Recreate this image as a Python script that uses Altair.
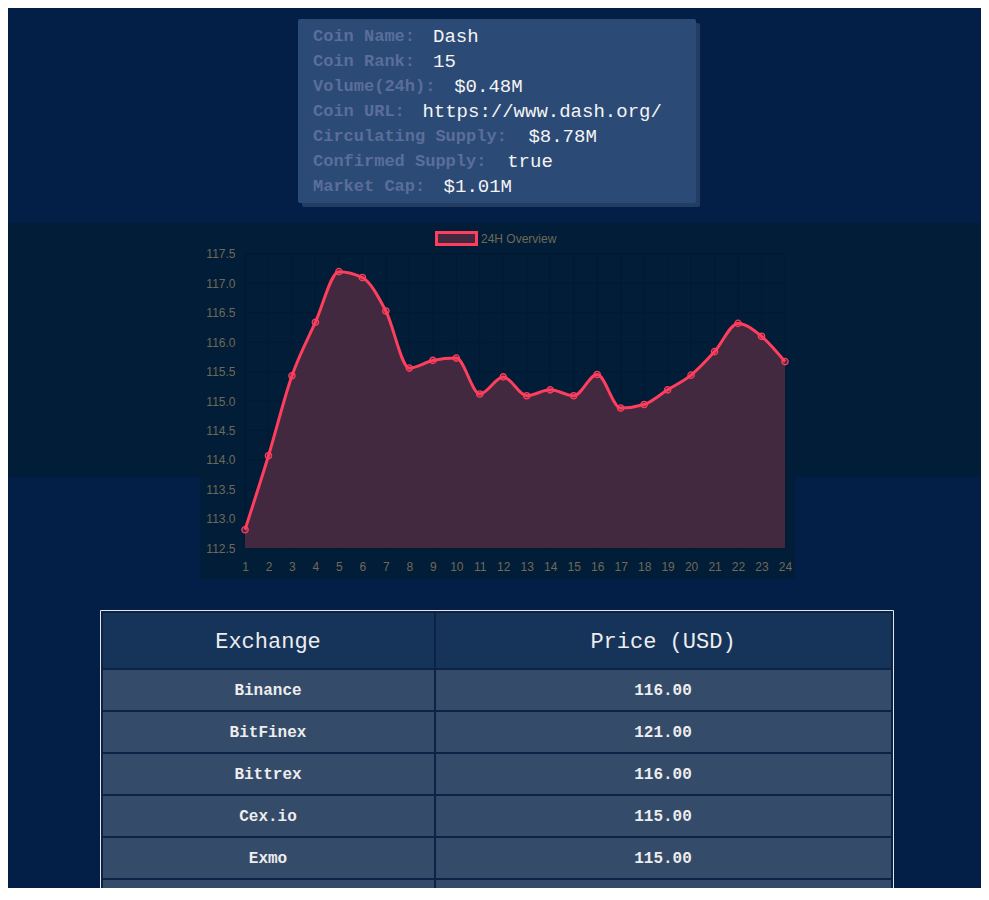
import altair as alt
import pandas as pd

PAGE = "#031F48"
CARD = "#2C4A76"
CARD_SHADOW = "#233C62"
LABEL = "#5A6E9B"
BAND = "#021D37"
GRID = "#021A33"
TICK = "#6E6A58"
LINE = "#FF3E5E"
AREA = "#43293F"
HEAD = "#16345A"
CELL = "#354B6A"
CELL_LINE = "#0B2346"
MONO = "Liberation Mono"
SANS = "Liberation Sans"
W = 973

card_labels = [
    "Coin Name:",
    "Coin Rank:",
    "Volume(24h):",
    "Coin URL:",
    "Circulating Supply:",
    "Confirmed Supply:",
    "Market Cap:",
]
card_values = ["Dash", "15", "$0.48M", "https://www.dash.org/", "$8.78M", "true", "$1.01M"]

hours = list(range(1, 25))
prices = [
    112.81, 114.07, 115.43, 116.34, 117.20, 117.10, 116.53, 115.56,
    115.69, 115.73, 115.12, 115.41, 115.09, 115.19, 115.09, 115.45,
    114.88, 114.94, 115.19, 115.44, 115.84, 116.32, 116.10, 115.67,
]
y_ticks = [112.5, 113.0, 113.5, 114.0, 114.5, 115.0, 115.5, 116.0, 116.5, 117.0, 117.5]

exchanges = ["Binance", "BitFinex", "Bittrex", "Cex.io", "Exmo", "IngoreX"]
exchange_prices = [116.0, 121.0, 116.0, 115.0, 115.0, 117.0]


def card_panel():
    one = pd.DataFrame({"k": [0]})
    df = pd.DataFrame(
        {
            "label": card_labels,
            "value": card_values,
            "chars": [len(s) for s in card_labels],
        }
    )
    row_y = alt.Y(
        "label:N",
        sort=None,
        axis=None,
        scale=alt.Scale(type="point", domain=card_labels, range=[28, 178], padding=0),
    )
    shadow = alt.Chart(one).mark_rect(color=CARD_SHADOW, cornerRadius=2).encode(
        x=alt.value(294), x2=alt.value(692), y=alt.value(15), y2=alt.value(199)
    )
    card = alt.Chart(one).mark_rect(color=CARD, cornerRadius=2).encode(
        x=alt.value(290), x2=alt.value(688), y=alt.value(11), y2=alt.value(195)
    )
    labels = (
        alt.Chart(df)
        .mark_text(
            align="left",
            baseline="middle",
            font=MONO,
            fontSize=17,
            fontWeight="bold",
            color=LABEL,
        )
        .encode(x=alt.value(305), y=row_y, text="label:N")
    )
    values = (
        alt.Chart(df)
        .mark_text(align="left", baseline="middle", font=MONO, fontSize=19, color="#F4F4F4")
        .encode(
            x=alt.X(
                "chars:Q",
                axis=None,
                scale=alt.Scale(domain=[-30.094, 61.698], nice=False, zero=False),
            ),
            y=row_y,
            text="value:N",
        )
    )
    return alt.layer(shadow, card, labels, values).properties(width=W, height=215)


def price_panel():
    one = pd.DataFrame({"k": [0]})
    df = pd.DataFrame(
        {"hour": hours, "price": prices, "base": y_ticks[0], "series": "24H Overview"}
    )
    x_sc = alt.Scale(domain=[-9.094, 32.348], nice=False, zero=False)
    y_sc = alt.Scale(domain=[111.446, 118.027], nice=False, zero=False)
    x_axis = alt.Axis(
        values=hours,
        orient="bottom",
        offset=-62,
        zindex=1,
        domain=False,
        ticks=False,
        tickSize=0,
        grid=False,
        labelPadding=13,
        labelAngle=0,
        labelColor=TICK,
        labelFont=SANS,
        labelFontSize=12,
        labelOverlap=False,
        labelFlush=False,
        title=None,
    )
    y_axis = alt.Axis(
        values=y_ticks,
        format=".1f",
        orient="left",
        offset=-237,
        zindex=1,
        domain=False,
        ticks=False,
        tickSize=0,
        grid=False,
        labelPadding=10,
        labelColor=TICK,
        labelFont=SANS,
        labelFontSize=12,
        labelOverlap=False,
        labelFlush=False,
        title=None,
    )

    band = alt.Chart(one).mark_rect(color=BAND).encode(
        x=alt.value(0), x2=alt.value(W), y=alt.value(0), y2=alt.value(254)
    )
    box = alt.Chart(one).mark_rect(color=BAND).encode(
        x=alt.value(192), x2=alt.value(787), y=alt.value(0), y2=alt.value(356)
    )

    vgrid = (
        alt.Chart(pd.DataFrame({"hour": hours, "lo": y_ticks[0], "hi": y_ticks[-1]}))
        .mark_rule(color=GRID, strokeWidth=1)
        .encode(
            x=alt.X("hour:Q", scale=x_sc, axis=x_axis),
            y=alt.Y("lo:Q", scale=y_sc, axis=y_axis),
            y2="hi:Q",
        )
    )
    hgrid = (
        alt.Chart(pd.DataFrame({"tick": y_ticks, "lo": hours[0], "hi": hours[-1]}))
        .mark_rule(color=GRID, strokeWidth=1)
        .encode(
            y=alt.Y("tick:Q", scale=y_sc, axis=y_axis),
            x=alt.X("lo:Q", scale=x_sc, axis=x_axis),
            x2="hi:Q",
        )
    )

    area = (
        alt.Chart(df)
        .mark_area(interpolate="monotone", opacity=1)
        .encode(
            x=alt.X("hour:Q", scale=x_sc, axis=x_axis),
            y=alt.Y("price:Q", scale=y_sc, axis=y_axis, stack=None),
            y2="base:Q",
            color=alt.Color(
                "series:N",
                scale=alt.Scale(domain=["24H Overview"], range=[AREA]),
                legend=alt.Legend(
                    title=None,
                    orient="none",
                    legendX=437,
                    legendY=219,
                    padding=0,
                    symbolType="M-2,-0.6H2V0.6H-2Z",
                    symbolSize=400,
                    symbolStrokeColor=LINE,
                    symbolStrokeWidth=3,
                    symbolOpacity=1,
                    labelColor=TICK,
                    labelFont=SANS,
                    labelFontSize=12,
                    labelOffset=13,
                ),
            ),
        )
    )

    line = (
        alt.Chart(df)
        .mark_line(interpolate="monotone", color=LINE, strokeWidth=3)
        .encode(
            x=alt.X("hour:Q", scale=x_sc, axis=x_axis),
            y=alt.Y("price:Q", scale=y_sc, axis=y_axis),
        )
    )

    points = (
        alt.Chart(df)
        .mark_point(
            shape="circle",
            size=40,
            filled=True,
            fill=LINE,
            fillOpacity=0.25,
            stroke=LINE,
            strokeWidth=1.3,
            opacity=1,
        )
        .encode(
            x=alt.X("hour:Q", scale=x_sc, axis=x_axis),
            y=alt.Y("price:Q", scale=y_sc, axis=y_axis),
        )
    )

    return alt.layer(band, box, vgrid, hgrid, area, line, points).properties(
        width=W, height=387
    )


def table_panel():
    one = pd.DataFrame({"k": [0]})
    df = pd.DataFrame(
        {"exchange": exchanges, "price": [f"{p:.2f}" for p in exchange_prices]}
    )
    row_y = alt.Y(
        "exchange:N",
        sort=None,
        axis=None,
        scale=alt.Scale(
            type="band",
            domain=exchanges,
            range=[59, 59 + 42 * len(exchanges)],
            paddingInner=0,
            paddingOuter=0,
        ),
    )
    cell = dict(color=CELL, stroke=CELL_LINE, strokeWidth=2, clip=True)
    left_cells = alt.Chart(df).mark_rect(**cell).encode(
        x=alt.value(94), x2=alt.value(427), y=row_y
    )
    right_cells = alt.Chart(df).mark_rect(**cell).encode(
        x=alt.value(427), x2=alt.value(884), y=row_y
    )
    head = dict(color=HEAD, stroke=CELL_LINE, strokeWidth=2)
    head_left = alt.Chart(one).mark_rect(**head).encode(
        x=alt.value(94), x2=alt.value(427), y=alt.value(2), y2=alt.value(59)
    )
    head_right = alt.Chart(one).mark_rect(**head).encode(
        x=alt.value(427), x2=alt.value(884), y=alt.value(2), y2=alt.value(59)
    )
    head_text = dict(font=MONO, fontSize=22, color="#EDEDED", align="center", baseline="middle")
    head_ex = alt.Chart(one).mark_text(text="Exchange", **head_text).encode(
        x=alt.value(260), y=alt.value(31)
    )
    head_pr = alt.Chart(one).mark_text(text="Price (USD)", **head_text).encode(
        x=alt.value(655), y=alt.value(31)
    )
    row_text = dict(
        font=MONO,
        fontSize=16,
        fontWeight="bold",
        color="#EDEDED",
        align="center",
        baseline="middle",
        clip=True,
    )
    ex_text = alt.Chart(df).mark_text(**row_text).encode(
        x=alt.value(260), y=row_y, text="exchange:N"
    )
    pr_text = alt.Chart(df).mark_text(**row_text).encode(
        x=alt.value(655), y=row_y, text="price:N"
    )
    border = alt.Chart(one).mark_rect(
        fillOpacity=0, stroke="#E6E6E6", strokeWidth=1, clip=True
    ).encode(x=alt.value(92.5), x2=alt.value(885.5), y=alt.value(0.5), y2=alt.value(400))
    return alt.layer(
        left_cells, right_cells, head_left, head_right, head_ex, head_pr,
        ex_text, pr_text, border,
    ).properties(width=W, height=278)


chart = (
    alt.vconcat(card_panel(), price_panel(), table_panel(), spacing=0)
    .properties(padding=0, bounds="flush")
    .configure(background=PAGE)
    .configure_view(stroke=None)
)

chart.save("out.html", embed_options={"renderer": "svg", "actions": False})
